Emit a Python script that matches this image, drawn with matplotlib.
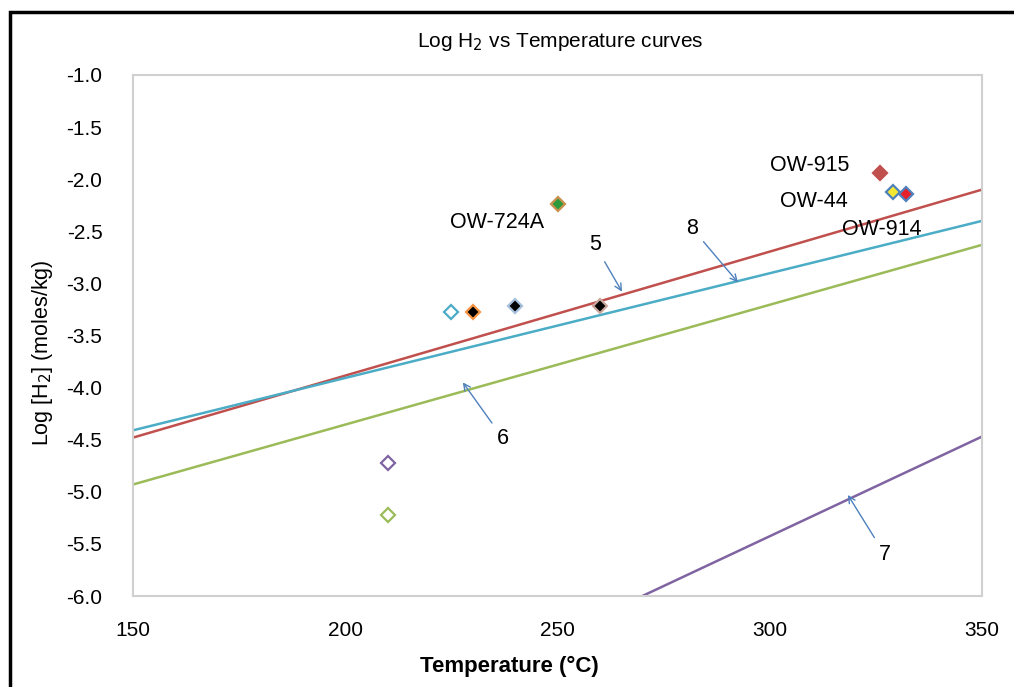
import matplotlib
matplotlib.use("Agg")
import matplotlib.pyplot as plt
from matplotlib.patches import Rectangle

plt.rcParams['font.family'] = ['Liberation Sans', 'DejaVu Sans']

# Curves (endpoints of straight lines)
curve_names = ["5", "8", "6", "7"]
curve_x = [[150, 350], [150, 350], [150, 350], [270, 350]]
curve_y = [[-4.48, -2.10], [-4.41, -2.40], [-4.93, -2.63], [-6.0, -4.47]]
curve_colors = ["#c0504d", "#4bacc6", "#9bbb59", "#8064a2"]

# Curve labels: text position and arrow target
curve_label_xy = [(258.8, -2.63), (281.7, -2.47), (237.2, -4.49), (327.1, -5.60)]
curve_arrow_xy = [(265.2, -3.08), (292.5, -2.99), (227.7, -3.95), (318.4, -5.03)]

# Sample points
pt_x = [225, 230, 240, 260, 250, 210, 210, 326, 329, 332]
pt_y = [-3.27, -3.27, -3.22, -3.22, -2.24, -4.72, -5.22, -1.94, -2.12, -2.14]
pt_face = ["white", "black", "black", "black", "#2e9a3e", "white", "white", "#c0504d", "#f2e830", "#e8202a"]
pt_edge = ["#4bacc6", "#f79646", "#a6bfdc", "#c9a79c", "#c8914d", "#8064a2", "#9bbb59", "#c0504d", "#4f81bd", "#4f81bd"]

# Well labels
well_names = ["OW-724A", "OW-915", "OW-44", "OW-914"]
well_xy = [(235.8, -2.42), (309.3, -1.87), (310.4, -2.21), (326.4, -2.48)]

fig = plt.figure(figsize=(10.14, 6.87), dpi=100)
ax = fig.add_axes([133/1014, 91/687, 849/1014, 521/687])

for xs, ys, c in zip(curve_x, curve_y, curve_colors):
    ax.plot(xs, ys, color=c, lw=1.8, solid_capstyle='butt')

for x, y, fc, ec in zip(pt_x, pt_y, pt_face, pt_edge):
    ax.plot([x], [y], marker='D', ms=7, mfc=fc, mec=ec, mew=1.6, ls='none')

for name, (tx, ty), (axx, ayy) in zip(curve_names, curve_label_xy, curve_arrow_xy):
    ax.annotate(name, xy=(axx, ayy), xytext=(tx, ty), ha='center', va='center', fontsize=15.5,
                arrowprops=dict(arrowstyle='->', color='#4f81bd', lw=1.0,
                                shrinkA=3, shrinkB=0, mutation_scale=12))

for name, (tx, ty) in zip(well_names, well_xy):
    ax.text(tx, ty, name, ha='center', va='center', fontsize=15.5)

ax.set_xlim(150, 350)
ax.set_ylim(-6.0, -1.0)
ax.set_xticks([150, 200, 250, 300, 350])
ax.set_yticks([-6.0, -5.5, -5.0, -4.5, -4.0, -3.5, -3.0, -2.5, -2.0, -1.5, -1.0])
ax.set_yticklabels([f"{v:.1f}" for v in ax.get_yticks()])
ax.tick_params(length=0, labelsize=15)
ax.tick_params(axis='y', pad=22)
ax.tick_params(axis='x', pad=18)
for s in ax.spines.values():
    s.set_color('#d0d0d0')
    s.set_linewidth(1.5)

ax.set_title("Log H$_2$ vs Temperature curves", fontsize=15, pad=20, x=0.503)
ax.set_xlabel("Temperature (°C)", fontsize=16, fontweight='bold')
ax.xaxis.set_label_coords(376/849, -0.115)
ax.set_ylabel("Log [H$_2$] (moles/kg)", fontsize=15.5)
ax.yaxis.set_label_coords(-78/849, 0.467)

fig.patches.append(Rectangle((10/1014, -0.1), 1.2, 1 - 12/687 + 0.1, transform=fig.transFigure,
                             fill=False, edgecolor='black', lw=2.5, clip_on=False))

fig.savefig("out.png", dpi=100)
